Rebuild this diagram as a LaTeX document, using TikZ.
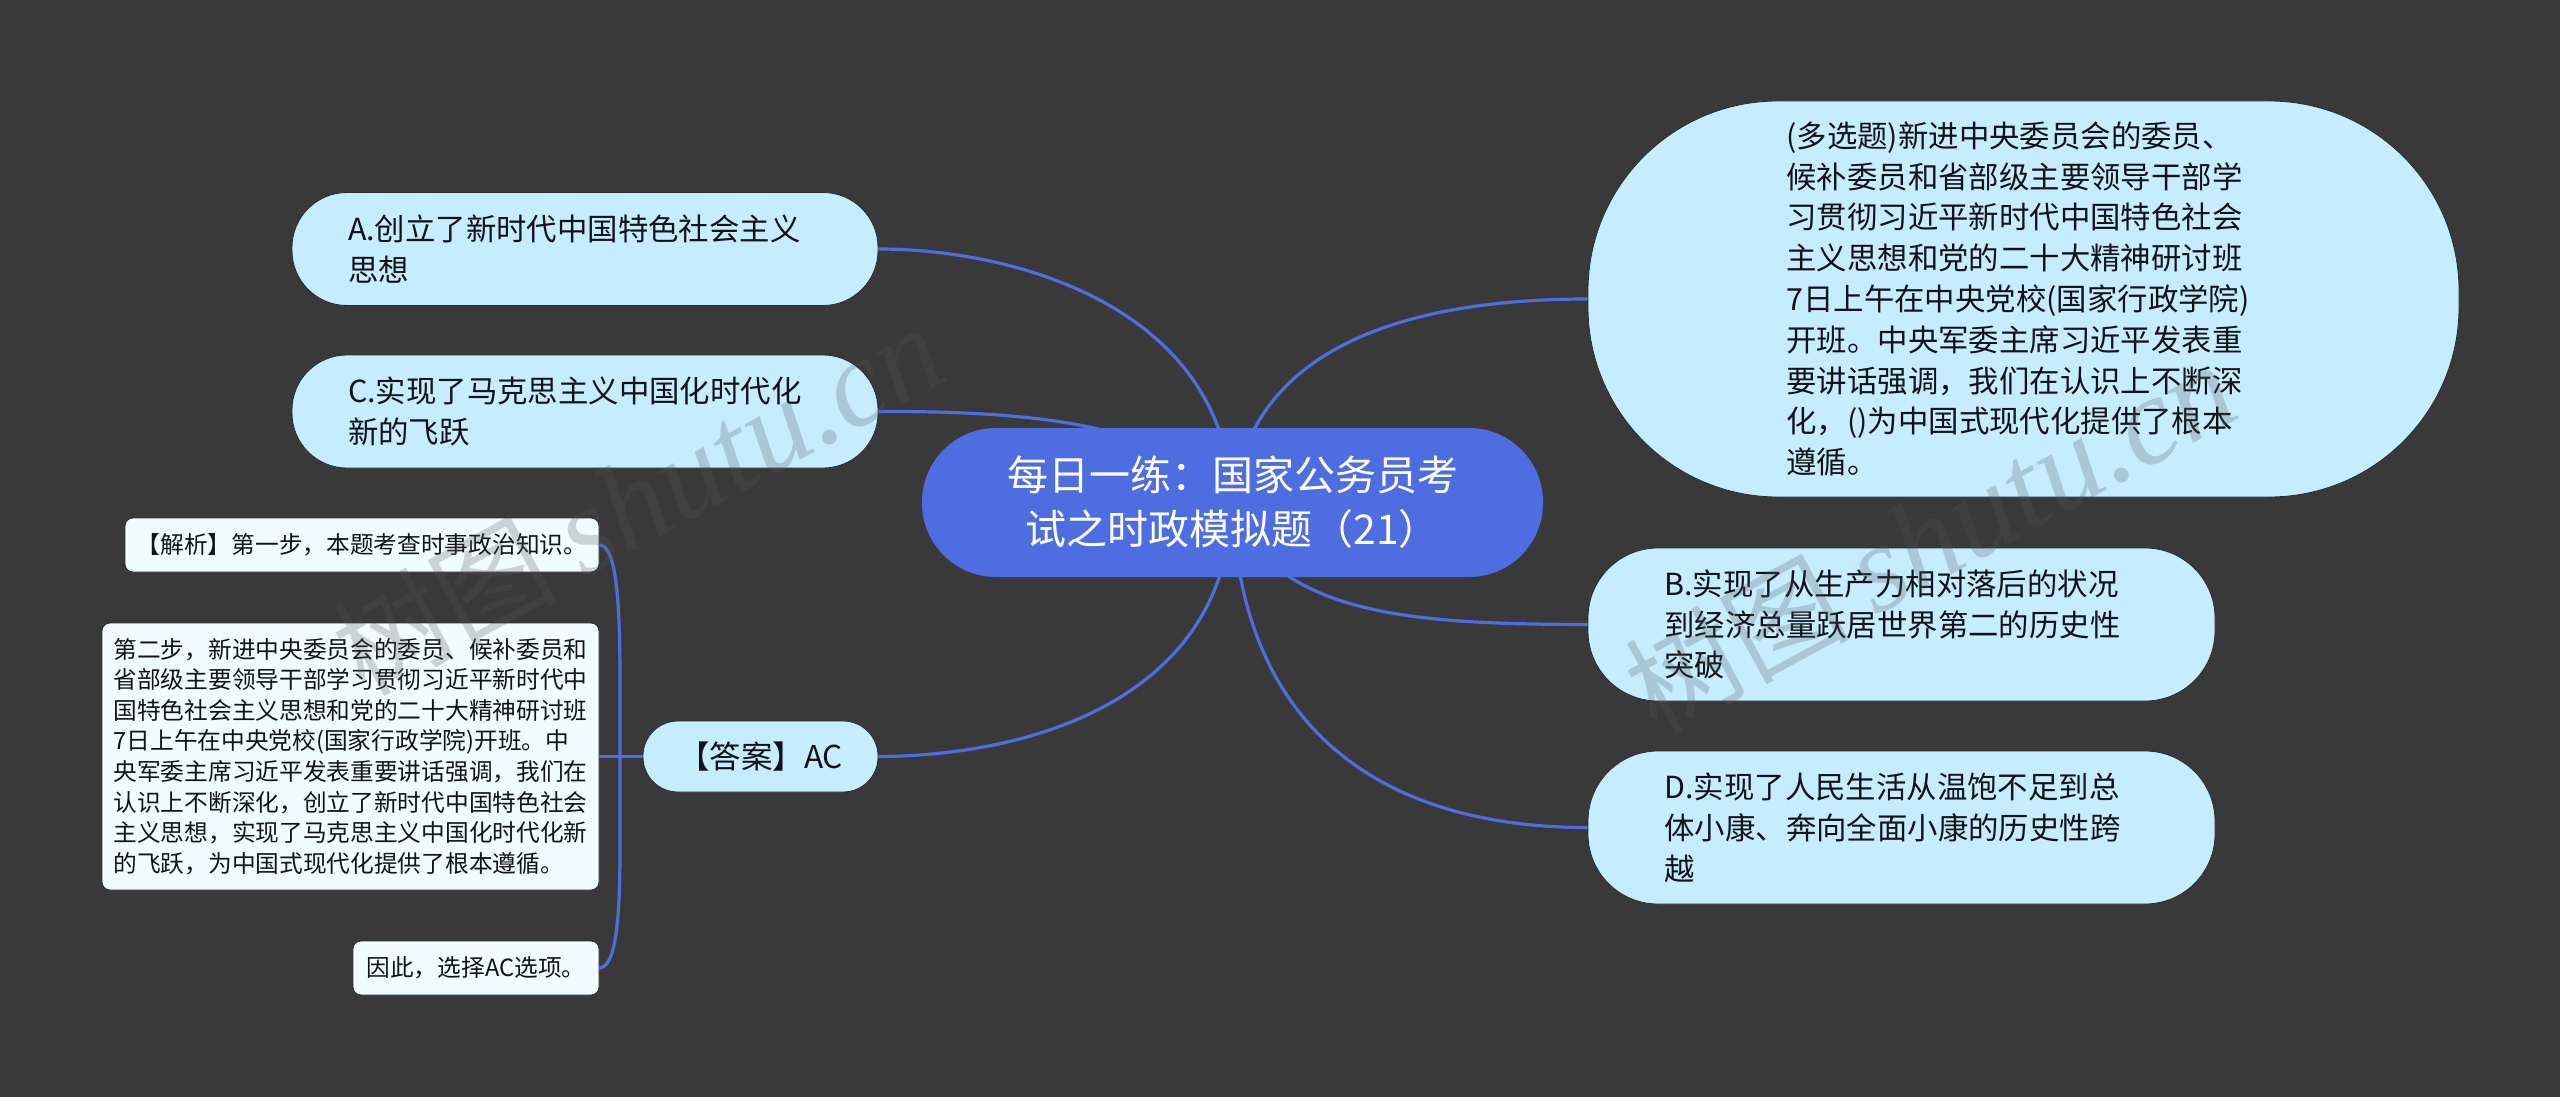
\documentclass[tikz,border=0pt]{standalone}
\usepackage{fontspec}
\setmainfont{Noto Sans CJK SC}
\newfontfamily\wmcjk{Noto Sans CJK SC}
\newfontfamily\wmlat{Liberation Serif}
\definecolor{bgc}{HTML}{3A393A}
\definecolor{rootc}{HTML}{4E6DE0}
\definecolor{topicc}{HTML}{C5EDFF}
\definecolor{notec}{HTML}{F0FCFF}
\definecolor{edgec}{HTML}{2A2B2E}
\definecolor{inkc}{HTML}{111315}
\definecolor{wmc}{HTML}{585858}
\pgfdeclarelayer{bglayer}
\pgfdeclarelayer{connlayer}
\pgfsetlayers{bglayer,connlayer,main}
\tikzset{
  base/.style={shape=rectangle,outer sep=0pt,inner sep=0pt,align=left,text=inkc,draw=edgec,line width=0.8pt},
  rootbox/.style={base,fill=rootc,draw=none,rounded corners=74pt,minimum width=621pt,minimum height=149pt,text width=474pt,align=center,text=white,font=\fontsize{41}{54}\selectfont},
  topicbox/.style={base,fill=topicc,font=\fontsize{30.4}{40.8}\selectfont,text width=474pt},
  notebox/.style={base,fill=notec,rounded corners=8pt,font=\fontsize{23.7}{30.6}\selectfont},
  link/.style={draw=rootc,line width=3.2pt},
  wmark/.style={text=wmc,opacity=0.25,rotate=28.5,font=\fontsize{112}{112}\selectfont}
}
\begin{document}
\begin{tikzpicture}[x=1pt,y=-1pt]
\useasboundingbox (0,0) rectangle (2560,1097);
\begin{pgfonlayer}{bglayer}
\fill[bgc] (0,0) rectangle (2560,1097);
\end{pgfonlayer}

\node[rootbox] (root) at (1232.5,502.5) {每日一练：国家公务员考\\试之时政模拟题（21）};

\node[topicbox,rounded corners=55pt,minimum width=586pt,minimum height=113pt] (a) at (585,249) {A.创立了新时代中国特色社会主义\\思想};
\node[topicbox,rounded corners=55pt,minimum width=586pt,minimum height=113pt] (c) at (585,411.5) {C.实现了马克思主义中国化时代化\\新的飞跃};
\node[topicbox,rounded corners=35pt,minimum width=235pt,minimum height=71pt,text width=165pt,font=\fontsize{31.5}{40.8}\selectfont] (ans) at (760.5,756.5) {【答案】AC};

\node[topicbox,rounded corners=190pt,minimum width=871pt,minimum height=396pt] (q) at (2023.5,299) {(多选题)新进中央委员会的委员、\\候补委员和省部级主要领导干部学\\习贯彻习近平新时代中国特色社会\\主义思想和党的二十大精神研讨班\\7日上午在中央党校(国家行政学院)\\开班。中央军委主席习近平发表重\\要讲话强调，我们在认识上不断深\\化，()为中国式现代化提供了根本\\遵循。};
\node[topicbox,rounded corners=70pt,minimum width=627pt,minimum height=153pt] (b) at (1901.5,624.5) {B.实现了从生产力相对落后的状况\\到经济总量跃居世界第二的历史性\\突破};
\node[topicbox,rounded corners=70pt,minimum width=627pt,minimum height=153pt] (d) at (1901.5,827.5) {D.实现了人民生活从温饱不足到总\\体小康、奔向全面小康的历史性跨\\越};

\node[notebox,minimum width=474pt,minimum height=54pt,align=center] (n1) at (362,545) {【解析】第一步，本题考查时事政治知识。};
\node[notebox,minimum width=497pt,minimum height=267pt,text width=474pt] (n2) at (350.5,756.5) {第二步，新进中央委员会的委员、候补委员和\\省部级主要领导干部学习贯彻习近平新时代中\\国特色社会主义思想和党的二十大精神研讨班\\7日上午在中央党校(国家行政学院)开班。中\\央军委主席习近平发表重要讲话强调，我们在\\认识上不断深化，创立了新时代中国特色社会\\主义思想，实现了马克思主义中国化时代化新\\的飞跃，为中国式现代化提供了根本遵循。};
\node[notebox,minimum width=246pt,minimum height=54pt,align=center] (n3) at (476,968) {因此，选择AC选项。};

\begin{pgfonlayer}{connlayer}
\draw[link] (a.east) .. controls (1020,249) and (1226,310) .. (root.center);
\draw[link] (c.east) .. controls (1040,411) and (1170,425) .. (root.center);
\draw[link] (ans.east) .. controls (1030,756) and (1226,700) .. (root.center);
\draw[link] (q.west) .. controls (1420,299) and (1250,340) .. (root.center);
\draw[link] (b.west) .. controls (1420,624) and (1270,618) .. (root.center);
\draw[link] (d.west) .. controls (1395,828) and (1240,740) .. (root.center);
\coordinate (trunk) at (620,756.5);
\draw[link] (n1.east) .. controls (615,545) and (620,590) .. (620,680) -- (trunk);
\draw[link] (n3.east) .. controls (615,968) and (620,925) .. (620,850) -- (trunk);
\draw[link] (n2.east) -- (ans.west);
\end{pgfonlayer}

\node[wmark] (w1) at (638,500) {{\wmcjk 树图} {\wmlat\itshape\fontsize{125}{125}\selectfont shutu.cn}};
\node[wmark] (w2) at (1930,538) {{\wmcjk 树图} {\wmlat\itshape\fontsize{125}{125}\selectfont shutu.cn}};
\end{tikzpicture}
\end{document}
